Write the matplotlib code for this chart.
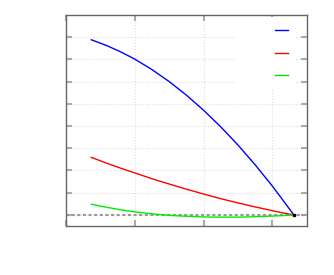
import matplotlib
matplotlib.use("Agg")
import matplotlib.pyplot as plt

# data
x = [0.37, 0.6, 0.8, 1.0, 1.25, 1.5, 1.75, 2.0, 2.25, 2.5, 2.75, 3.0, 3.15, 3.31]
blue = [7.88, 7.61, 7.33, 7.01, 6.54, 6.00, 5.39, 4.71, 3.96, 3.14, 2.25, 1.29, 0.67, 0.0]
red = [2.59, 2.32, 2.10, 1.89, 1.63, 1.39, 1.16, 0.94, 0.73, 0.54, 0.36, 0.19, 0.09, 0.0]
green = [0.48, 0.34, 0.23, 0.14, 0.05, -0.02, -0.06, -0.09, -0.10, -0.10, -0.08, -0.05, -0.03, 0.0]
end_point = (3.31, 0.0)
xticks = [0, 1, 2, 3]
yticks = [0, 1, 2, 3, 4, 5, 6, 7, 8]
labels = ["      ", "      ", "      "]

fig = plt.figure(figsize=(3.34, 2.75), dpi=100)
ax = fig.add_axes([0.197, 0.178, 0.722, 0.768])

ax.axhline(0, color="#999999", lw=1.5, linestyle=(0, (1.5, 1.2)), zorder=1)
ax.plot(x, blue, color="#0000ff", lw=1.0, label=labels[0], zorder=3)
ax.plot(x, red, color="#ff0000", lw=1.0, label=labels[1], zorder=3)
ax.plot(x, green, color="#00ee00", lw=1.0, label=labels[2], zorder=3)
ax.plot([end_point[0]], [end_point[1]], marker="s", color="black", ms=2.0, zorder=4)

ax.set_xlim(0, 3.5)
ax.set_ylim(-0.5, 9)
ax.set_xticks(xticks)
ax.set_yticks(yticks)
ax.tick_params(direction="in", length=4, width=1.5, color="#aaaaaa",
               top=True, right=True, labelbottom=False, labelleft=False)
ax.grid(True, linestyle=":", color="#dddddd", lw=0.8)
ax.set_axisbelow(True)
for s in ax.spines.values():
    s.set_color("#666666")
    s.set_linewidth(1.0)

leg = ax.legend(loc="upper right", bbox_to_anchor=(0.952, 0.988), markerfirst=False,
                frameon=True, facecolor="white", edgecolor="none", framealpha=1,
                handlelength=1.0, fontsize=10, labelspacing=0.6, borderpad=0.5,
                handletextpad=0.3, borderaxespad=0.0)
for t in leg.get_texts():
    t.set_color("white")

fig.savefig("out.png", dpi=100)
